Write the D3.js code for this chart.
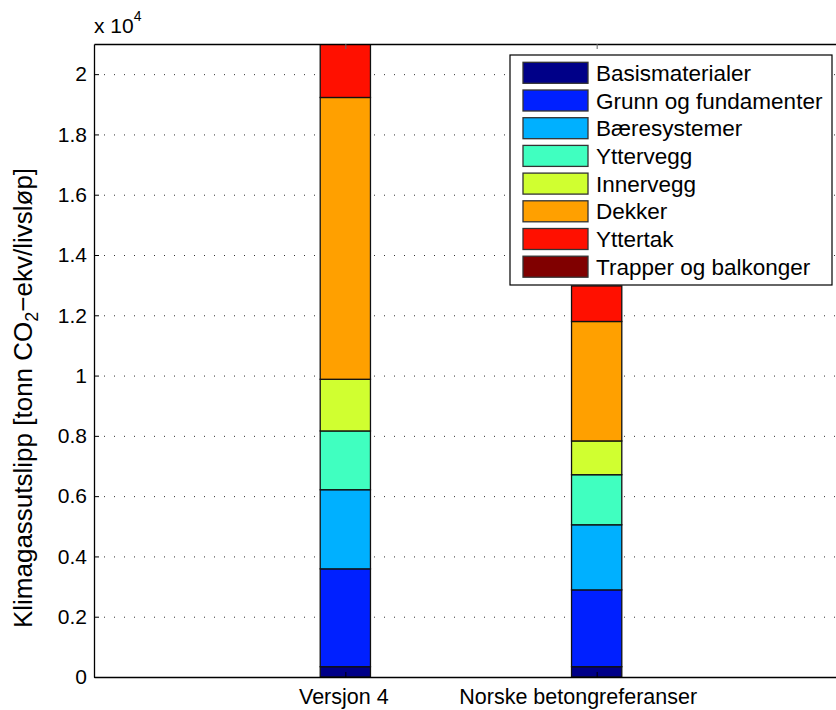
<!DOCTYPE html>
<html>
<head>
<meta charset="utf-8">
<script src="https://cdn.jsdelivr.net/npm/d3@7"></script>
<style>
  html, body { margin: 0; padding: 0; background: #fff; }
  svg { display: block; font-family: "Liberation Sans", Arial, Helvetica, sans-serif; }
</style>
</head>
<body>
<svg id="chart" width="836" height="710"></svg>
<script>
// Climate gas emissions per building component (tonn CO2-ekv over the life cycle)
const categories = ["Versjon 4", "Norske betongreferanser"];
const components = ["Basismaterialer", "Grunn og fundamenter", "Bæresystemer", "Yttervegg",
                    "Innervegg", "Dekker", "Yttertak", "Trapper og balkonger"];
const basismaterialer   = [342, 342];
const grunnFundamenter  = [3246, 2548];
const baeresystemer     = [2625, 2160];
const yttervegg         = [1950, 1661];
const innervegg         = [1714, 1120];
const dekker            = [9349, 3963];
const yttertak          = [2000, 1179];
const trapperBalkonger  = [0, 0];
const yTicks = [0, 2000, 4000, 6000, 8000, 10000, 12000, 14000, 16000, 18000, 20000];
const componentColors = ["#000088", "#0020FF", "#00B0FF", "#40FFC0",
                         "#D0FF30", "#FFA000", "#FF1000", "#800000"];

const seriesValues = [basismaterialer, grunnFundamenter, baeresystemer, yttervegg,
                      innervegg, dekker, yttertak, trapperBalkonger];

// rows for d3.stack: one per category
const rows = categories.map((c, i) => {
  const r = { category: c, x: i + 1 };
  components.forEach((k, j) => { r[k] = seriesValues[j][i]; });
  return r;
});

const svg = d3.select("#chart");
const plot = { left: 94, top: 44, bottom: 677, right: 848 };

const x = d3.scaleLinear().domain([0, 3]).range([plot.left, plot.right]);
const y = d3.scaleLinear().domain([0, 21000]).range([plot.bottom, plot.top]);
const barWidth = 0.2;

svg.append("defs").append("clipPath").attr("id", "plotClip")
  .append("rect")
  .attr("x", plot.left).attr("y", plot.top)
  .attr("width", plot.right - plot.left).attr("height", plot.bottom - plot.top);

// dotted horizontal grid
svg.append("g")
  .attr("transform", `translate(${plot.left},0)`)
  .call(d3.axisLeft(y).tickValues(yTicks).tickSize(-(plot.right - plot.left)).tickFormat(""))
  .call(g => g.select(".domain").remove())
  .call(g => g.selectAll("line")
    .attr("stroke", "#333")
    .attr("stroke-width", 1)
    .attr("stroke-dasharray", "1,9"));

// stacked bars
const stacked = d3.stack().keys(components)(rows);
const bars = svg.append("g").attr("clip-path", "url(#plotClip)");
stacked.forEach((layer, j) => {
  bars.selectAll(null)
    .data(layer)
    .join("rect")
    .attr("x", d => x(d.data.x - barWidth / 2))
    .attr("width", d => x(d.data.x + barWidth / 2) - x(d.data.x - barWidth / 2))
    .attr("y", d => y(d[1]))
    .attr("height", d => y(d[0]) - y(d[1]))
    .attr("fill", componentColors[j])
    .attr("stroke", d => (d[1] - d[0]) > 0 ? "#111" : "none")
    .attr("stroke-width", 1.3);
});

const fmt = v => String(+(v / 10000).toFixed(1));

// left axis
svg.append("g")
  .attr("transform", `translate(${plot.left},0)`)
  .call(d3.axisLeft(y).tickValues(yTicks).tickFormat(fmt)
    .tickSizeInner(-5).tickSizeOuter(0).tickPadding(7))
  .call(g => g.select(".domain").attr("stroke", "#000").attr("stroke-width", 1.3))
  .call(g => g.selectAll("text").attr("font-size", 21).attr("fill", "#000")
    .attr("font-family", "Liberation Sans, Arial, sans-serif"));

// bottom axis; the long right-hand label is pulled left so it stays inside the figure
svg.append("g")
  .attr("transform", `translate(0,${plot.bottom})`)
  .call(d3.axisBottom(x).tickValues([1, 2]).tickFormat((d, i) => categories[i])
    .tickSizeInner(-5).tickSizeOuter(0).tickPadding(12))
  .call(g => g.select(".domain").attr("stroke", "#000").attr("stroke-width", 1.3))
  .call(g => g.selectAll("text").attr("font-size", 21.5).attr("fill", "#000")
    .attr("font-family", "Liberation Sans, Arial, sans-serif")
    .attr("dx", (d, i) => i === 1 ? -19 : -2));

// top axis (box edge with inward ticks)
svg.append("g")
  .attr("transform", `translate(0,${plot.top})`)
  .call(d3.axisTop(x).tickValues([1, 2]).tickFormat("")
    .tickSizeInner(-5).tickSizeOuter(0))
  .call(g => g.select(".domain").attr("stroke", "#000").attr("stroke-width", 1.3))
  .call(g => g.selectAll(".tick line").attr("stroke", "#666"));

// exponent label
const expo = svg.append("text")
  .attr("x", plot.left).attr("y", 33)
  .attr("font-size", 21).attr("fill", "#000");
expo.append("tspan").text("x 10");
expo.append("tspan").attr("font-size", 14).attr("dy", -12).text("4");

// y-axis title
const yl = svg.append("text")
  .attr("transform", "translate(32,398) rotate(-90)")
  .attr("text-anchor", "middle")
  .attr("font-size", 26).attr("fill", "#000");
yl.append("tspan").text("Klimagassutslipp [tonn CO");
yl.append("tspan").attr("font-size", 18).attr("dy", 6).text("2");
yl.append("tspan").attr("dy", -6).text("\u2212ekv/livsløp]");

// legend
const legend = { x: 510, y: 55, w: 322, h: 230, rowStart: 72.8, rowStep: 27.7 };
const lg = svg.append("g");
lg.append("rect")
  .attr("x", legend.x).attr("y", legend.y)
  .attr("width", legend.w).attr("height", legend.h)
  .attr("fill", "#fff").attr("stroke", "#000").attr("stroke-width", 1.2);
const items = lg.selectAll("g.item").data(components).join("g")
  .attr("class", "item")
  .attr("transform", (d, i) => `translate(0,${legend.rowStart + i * legend.rowStep})`);
items.append("rect")
  .attr("x", 523).attr("y", -10.5).attr("width", 65).attr("height", 21)
  .attr("fill", (d, i) => componentColors[i])
  .attr("stroke", "#333").attr("stroke-width", 1.3);
items.append("text")
  .attr("x", 596).attr("y", 8)
  .attr("font-size", 22.5).attr("fill", "#000")
  .text(d => d);
</script>
</body>
</html>
